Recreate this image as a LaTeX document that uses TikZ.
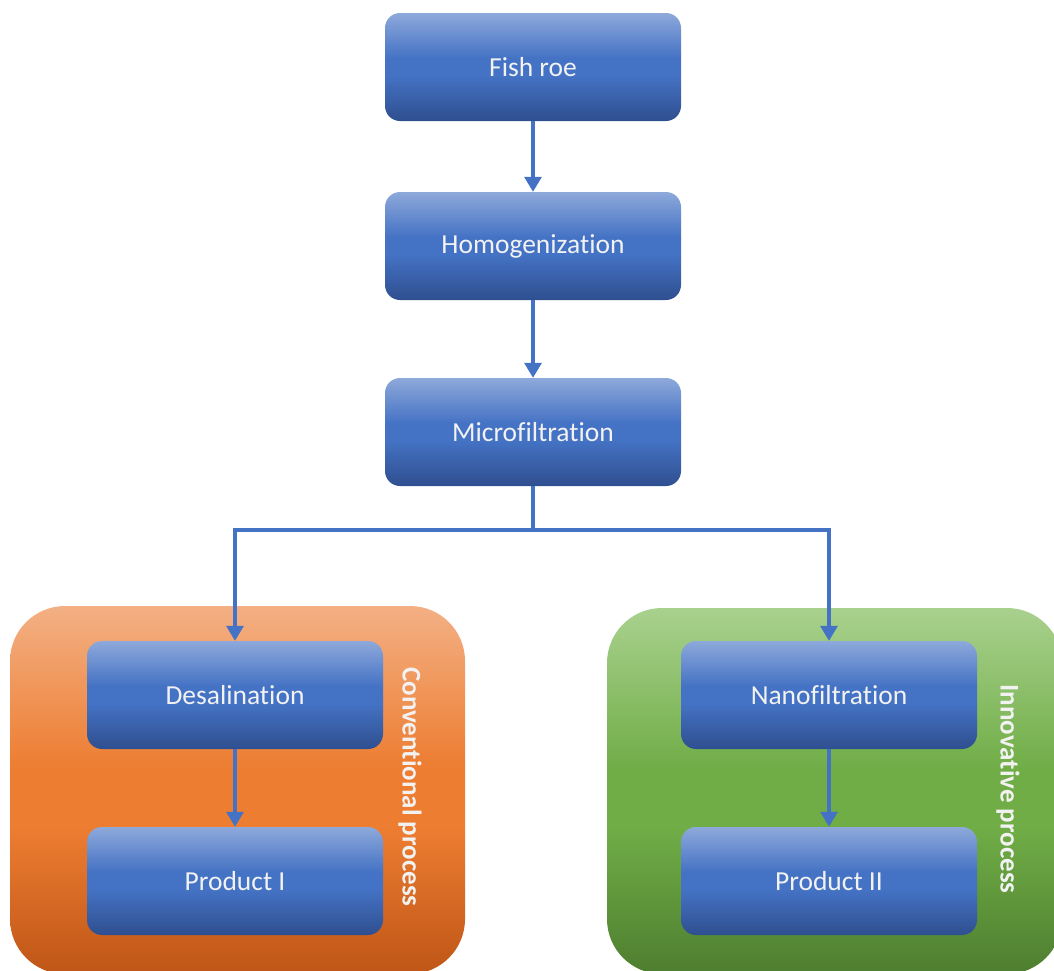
\documentclass[tikz,border=0pt]{standalone}
\usepackage{fontspec}
\setmainfont{Carlito}[Ligatures={NoCommon}]
\usetikzlibrary{arrows.meta}
\definecolor{bTop}{HTML}{8EA9DB}
\definecolor{bMid}{HTML}{4472C4}
\definecolor{bBot}{HTML}{2F4F8F}
\definecolor{oTop}{HTML}{F3B084}
\definecolor{oMid}{HTML}{ED7D31}
\definecolor{oBot}{HTML}{BF5617}
\definecolor{gTop}{HTML}{A9D18E}
\definecolor{gMid}{HTML}{70AD47}
\definecolor{gBot}{HTML}{4E7E2F}
\definecolor{lineBlue}{HTML}{4472C4}
\pgfdeclareverticalshading{blueshade}{100bp}{color(0bp)=(bBot); color(25bp)=(bBot); color(46bp)=(bMid); color(54bp)=(bMid); color(75bp)=(bTop); color(100bp)=(bTop)}
\pgfdeclareverticalshading{orangeshade}{100bp}{color(0bp)=(oBot); color(25bp)=(oBot); color(45bp)=(oMid); color(53bp)=(oMid); color(75bp)=(oTop); color(100bp)=(oTop)}
\pgfdeclareverticalshading{greenshade}{100bp}{color(0bp)=(gBot); color(25bp)=(gBot); color(45bp)=(gMid); color(53bp)=(gMid); color(75bp)=(gTop); color(100bp)=(gTop)}
\tikzset{
  stepbox/.style={rectangle, rounded corners=15pt, minimum width=296pt, minimum height=108pt,
    shading=blueshade, text=white!95!black,
    font=\fontsize{27.5}{32}\selectfont, inner sep=0pt},
  conn/.style={draw=lineBlue, line width=3.2pt, -{Triangle[length=15pt,width=17pt]}},
  plain/.style={draw=lineBlue, line width=3.2pt},
  sidelabel/.style={rotate=-90, text=white!95!black, font=\fontsize{27}{32}\selectfont\bfseries}
}
\begin{document}
\begin{tikzpicture}[x=1pt,y=-1pt]
\useasboundingbox (0,0) rectangle (1054,970);
\clip (0,0) rectangle (1054,970);
% containers
\shade[rounded corners=55pt, shading=orangeshade] (10,606) rectangle (465,974);
\shade[rounded corners=55pt, shading=greenshade] (607,608) rectangle (1062,974);
% boxes
\node[stepbox] (fish) at (533,67) {Fish roe};
\node[stepbox] (homo) at (533,246) {Homogenization};
\node[stepbox] (micro) at (533,432) {Microfiltration};
\node[stepbox] (desal) at (235,695) {Desalination};
\node[stepbox] (prod1) at (235,881) {Product I};
\node[stepbox] (nano) at (829,695) {Nanofiltration};
\node[stepbox] (prod2) at (829,881) {Product II};
% side labels
\node[sidelabel] (conv) at (410,787) {Conventional process};
\node[sidelabel] (inno) at (1008,789) {Innovative process};
% connectors
\coordinate (split) at (533,530);
\draw[conn] (fish.south) -- (homo.north);
\draw[conn] (homo.south) -- (micro.north);
\draw[plain] (micro.south) -- (split);
\draw[conn] (split) -| (desal.north);
\draw[conn] (split) -| (nano.north);
\draw[conn] (desal.south) -- (prod1.north);
\draw[conn] (nano.south) -- (prod2.north);
\end{tikzpicture}
\end{document}
